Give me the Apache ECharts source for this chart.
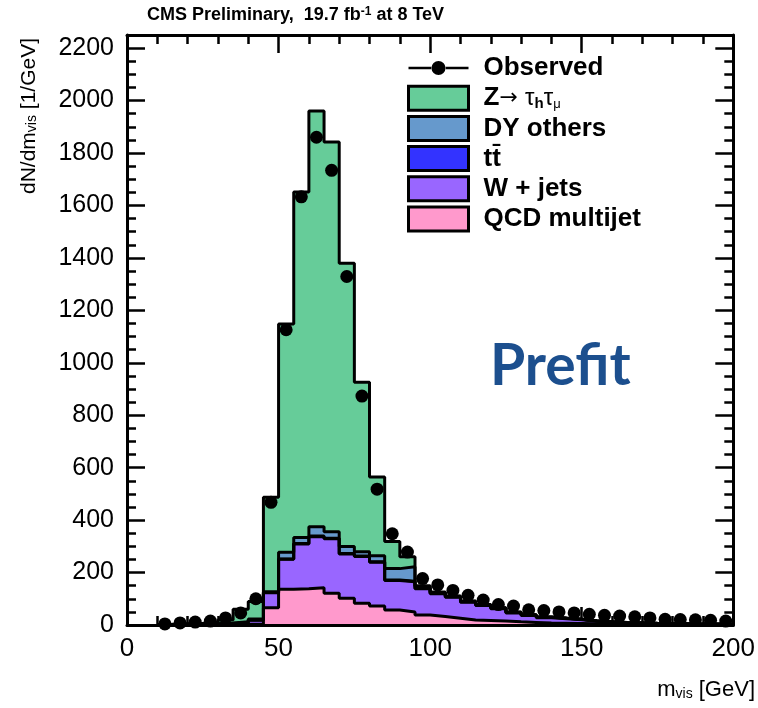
<!DOCTYPE html>
<html>
<head>
<meta charset="utf-8">
<script src="https://cdn.jsdelivr.net/npm/echarts@6/dist/echarts.min.js"></script>
<style>
  html, body { margin: 0; padding: 0; background: #fff; }
  #chart { width: 758px; height: 708px; }
</style>
</head>
<body>
<div id="chart"></div>
<script>
// Visible-mass histogram, mu-tau_h channel, 5 GeV bins starting at 10 GeV (values in 1/GeV)
const binLow = [10, 15, 20, 25, 30, 35, 40, 45, 50, 55, 60, 65, 70, 75, 80, 85, 90, 95, 100, 105,
                110, 115, 120, 125, 130, 135, 140, 145, 150, 155, 160, 165, 170, 175, 180, 185, 190, 195];
const binWidth = 5;

const qcdMultijet = [0.5, 1, 1, 1.5, 2, 3, 4, 66, 136, 138, 142, 121, 102, 83, 72, 57, 50, 38, 32, 26,
                     19, 17, 15, 12, 10, 8, 7, 6, 5, 4, 3, 2.5, 2, 1.5, 1.5, 1, 1, 1];
const wJets       = [0.5, 1, 1.5, 2, 3, 6, 14, 57, 115, 171, 195, 208, 169, 178, 167, 113, 115, 100, 87, 80,
                     68, 57, 47, 34, 26, 20, 17, 14, 9, 7, 5, 4, 3, 2.5, 2, 1.5, 1.5, 1];
const ttbar       = [0, 0, 0, 0, 0.5, 0.5, 1, 1, 1, 2, 2, 2, 2, 2, 2, 2, 2, 2, 2, 2,
                     2, 2, 2, 2, 2, 1.5, 1.5, 1.5, 1.5, 1, 1, 1, 1, 1, 0.8, 0.8, 0.7, 0.7];
const dyOthers    = [0.5, 0.5, 1, 1, 2, 3, 4, 3, 25, 23, 36, 25, 26, 16, 23, 43, 55, 7, 3, 2,
                     2, 1, 1, 1, 1, 1, 0.5, 0.5, 0.5, 0.5, 0.5, 0.5, 0.3, 0.3, 0.3, 0.3, 0.3, 0.3];
const zTauTau     = [1, 2, 3, 6, 12, 48, 67, 360, 871, 1317, 1585, 1486, 1081, 647, 300, 103, 38, 3, 2, 1,
                     1, 1, 0.5, 0.5, 0.3, 0.3, 0.3, 0.3, 0.3, 0.3, 0.3, 0.3, 0.3, 0.3, 0.3, 0.3, 0.3, 0.3];
const observed    = [4, 8, 11, 15, 27, 46, 100, 468, 1126, 1633, 1860, 1734, 1329, 873, 518, 348, 278, 177, 153, 132,
                     113, 95, 78, 72, 58, 55, 50, 46, 41, 37, 34, 31, 27, 22, 21, 20, 18, 15];

const xRange = [0, 200];
const yRange = [0, 2250];
const yLabelStep = 200;
const xLabelStep = 50;

// Backgrounds stacked from the bottom up
const components = [
  { name: 'QCD multijet', values: qcdMultijet, color: '#ff99cc' },
  { name: 'W + jets',     values: wJets,       color: '#9966ff' },
  { name: 'ttbar',        values: ttbar,       color: '#3333ff' },
  { name: 'DY others',    values: dyOthers,    color: '#6699cc' },
  { name: 'Ztautau',      values: zTauTau,     color: '#66cc99' }
];

let running = binLow.map(() => 0);
components.forEach(c => {
  running = running.map((r, i) => r + c.values[i]);
  c.top = running;
});

// Step outline of a cumulative histogram: left edge up, bin tops, right edge down
function stepPoints(tops) {
  const last = binLow.length - 1;
  const pts = [[binLow[0], 0]];
  binLow.forEach((x, i) => pts.push([x, tops[i]]));
  pts.push([binLow[last] + binWidth, tops[last]]);
  pts.push([binLow[last] + binWidth, 0]);
  return pts;
}

// Tallest cumulative drawn first so each lower layer sits in front
const histSeries = components.slice().reverse().map(c => ({
  type: 'line',
  name: c.name,
  step: 'end',
  data: stepPoints(c.top),
  symbol: 'none',
  showSymbol: false,
  lineStyle: { color: '#000', width: 3 },
  itemStyle: { color: c.color },
  areaStyle: { color: c.color, opacity: 1 },
  z: 2,
  silent: true
}));

const observedSeries = {
  type: 'scatter',
  name: 'Observed',
  data: binLow.map((x, i) => [x + binWidth / 2, observed[i]]),
  symbol: 'circle',
  symbolSize: 13,
  itemStyle: { color: '#000', opacity: 1 },
  z: 6,
  silent: true
};

const FONT = 'Liberation Sans, Arial, Helvetica, sans-serif';

const axisLineStyle = { color: '#000', width: 3 };
const tickStyle = { color: '#000', width: 2.5 };

function xAxisBase(extra) {
  return Object.assign({
    type: 'value', min: xRange[0], max: xRange[1], interval: xLabelStep,
    splitLine: { show: false },
    axisLine: { show: true, onZero: false, lineStyle: axisLineStyle },
    axisTick: { show: true, inside: true, length: 18, lineStyle: tickStyle },
    minorTick: { show: true, splitNumber: 5, length: 9, lineStyle: tickStyle },
    axisLabel: { show: false }
  }, extra);
}

function yAxisBase(extra) {
  return Object.assign({
    type: 'value', min: yRange[0], max: yRange[1],
    splitLine: { show: false },
    axisLine: { show: false, onZero: false, lineStyle: axisLineStyle },
    axisLabel: { show: false }
  }, extra);
}

const option = {
  animation: false,
  backgroundColor: '#fff',
  grid: { left: 127, right: 18, top: 35, bottom: 83, containLabel: false },
  xAxis: [
    xAxisBase({
      position: 'bottom',
      axisLine: { show: false },
      axisLabel: { show: true, color: '#000', fontFamily: FONT, fontSize: 26, margin: 11,
                   formatter: v => String(v) }
    }),
    xAxisBase({ position: 'top' }),
    // bottom frame line drawn above the filled histograms
    xAxisBase({ position: 'bottom', axisTick: { show: false }, minorTick: { show: false }, z: 4 })
  ],
  yAxis: [
    // left: fine ticks every 50 plus the frame line
    yAxisBase({ position: 'left', interval: 50, axisLine: { show: true, onZero: false, lineStyle: axisLineStyle },
      axisTick: { show: true, inside: true, length: 9, lineStyle: tickStyle } }),
    // left: labelled ticks every 200
    yAxisBase({ position: 'left', interval: yLabelStep,
      axisTick: { show: true, inside: true, length: 18, lineStyle: tickStyle },
      axisLabel: { show: true, showMaxLabel: false, color: '#000', fontFamily: FONT, fontSize: 25, margin: 13,
                   formatter: v => String(v) } }),
    yAxisBase({ position: 'right', interval: 50, axisLine: { show: true, onZero: false, lineStyle: axisLineStyle },
      axisTick: { show: true, inside: true, length: 9, lineStyle: tickStyle } }),
    yAxisBase({ position: 'right', interval: yLabelStep,
      axisTick: { show: true, inside: true, length: 18, lineStyle: tickStyle } })
  ],
  legend: {
    orient: 'vertical',
    left: 407,
    top: 55,
    padding: 0,
    itemWidth: 60,
    itemHeight: 24,
    itemGap: 3.2,
    selectedMode: false,
    textStyle: {
      color: '#000', fontFamily: FONT, fontWeight: 'bold', fontSize: 26, lineHeight: 26,
      padding: [0, 0, 0, 10],
      rich: {
        g:   { fontFamily: FONT, fontSize: 24, fontWeight: 'normal', color: '#000', lineHeight: 26 },
        sub: { fontFamily: FONT, fontSize: 15, fontWeight: 'bold', color: '#000', verticalAlign: 'bottom', lineHeight: 15, padding: [12, 0, 0, 0] },
        subn:{ fontFamily: FONT, fontSize: 13, fontWeight: 'normal', color: '#000', verticalAlign: 'bottom', lineHeight: 13, padding: [12, 0, 0, 0] },
        tt:  { fontFamily: FONT, fontSize: 26, fontWeight: 'bold', color: '#000', lineHeight: 26 },
        ar:  { fontFamily: '"DejaVu Sans", sans-serif', fontSize: 22, fontWeight: 'normal', color: '#000', lineHeight: 26 }
      }
    },
    formatter: function (name) {
      if (name === 'Ztautau') return 'Z{ar|\u2192} {g|\u03c4}{sub|h}{g|\u03c4}{subn|\u03bc}';
      if (name === 'ttbar') return '{tt|tt\u0304}';
      return name;
    },
    data: [
      { name: 'Observed',
        icon: 'path://M0,11.75L23.5,11.75L23.5,14.25L0,14.25Z M36.5,11.75L60,11.75L60,14.25L36.5,14.25Z M23,13A7,7,0,1,0,37,13A7,7,0,1,0,23,13Z',
        itemStyle: { color: '#000', opacity: 1, borderWidth: 0 } }
    ].concat(components.slice().reverse().map(c => ({
      name: c.name, icon: 'rect',
      itemStyle: { color: c.color, borderColor: '#000', borderWidth: 3 }
    })))
  },
  graphic: [
    {
      type: 'text', left: 147, top: 6,
      style: {
        text: 'CMS Preliminary,  19.7 fb{sup|-1} at 8 TeV',
        fill: '#000', font: 'bold 18px ' + FONT,
        rich: { sup: { fontSize: 12, fontWeight: 'bold', fontFamily: FONT, verticalAlign: 'top', lineHeight: 12, padding: [0, 0, 8, 0] } }
      }
    },
    {
      type: 'text', x: 29, y: 116, rotation: Math.PI / 2,
      style: {
        text: 'dN/dm{sub|vis} [1/GeV]', fill: '#000', font: '21px ' + FONT,
        align: 'center', verticalAlign: 'middle',
        rich: { sub: { fontSize: 14, fontFamily: FONT, verticalAlign: 'bottom', lineHeight: 14, padding: [9, 0, 0, 0] } }
      }
    },
    {
      type: 'text', x: 755, y: 690,
      style: {
        text: 'm{sub|vis} [GeV]', fill: '#000', font: '22px ' + FONT,
        align: 'right', verticalAlign: 'middle',
        rich: { sub: { fontSize: 14, fontFamily: FONT, verticalAlign: 'bottom', lineHeight: 14, padding: [10, 0, 0, 0] } }
      }
    },
    {
      type: 'text', x: 490, y: 367,
      style: {
        text: 'Prefit', fill: '#1c4f8e', font: 'bold 57px Lato, "Open Sans", sans-serif',
        align: 'left', verticalAlign: 'middle'
      }
    }
  ],
  series: histSeries.concat([observedSeries])
};

const chart = echarts.init(document.getElementById('chart'), null, { renderer: 'canvas' });
chart.setOption(option);
</script>
</body>
</html>
